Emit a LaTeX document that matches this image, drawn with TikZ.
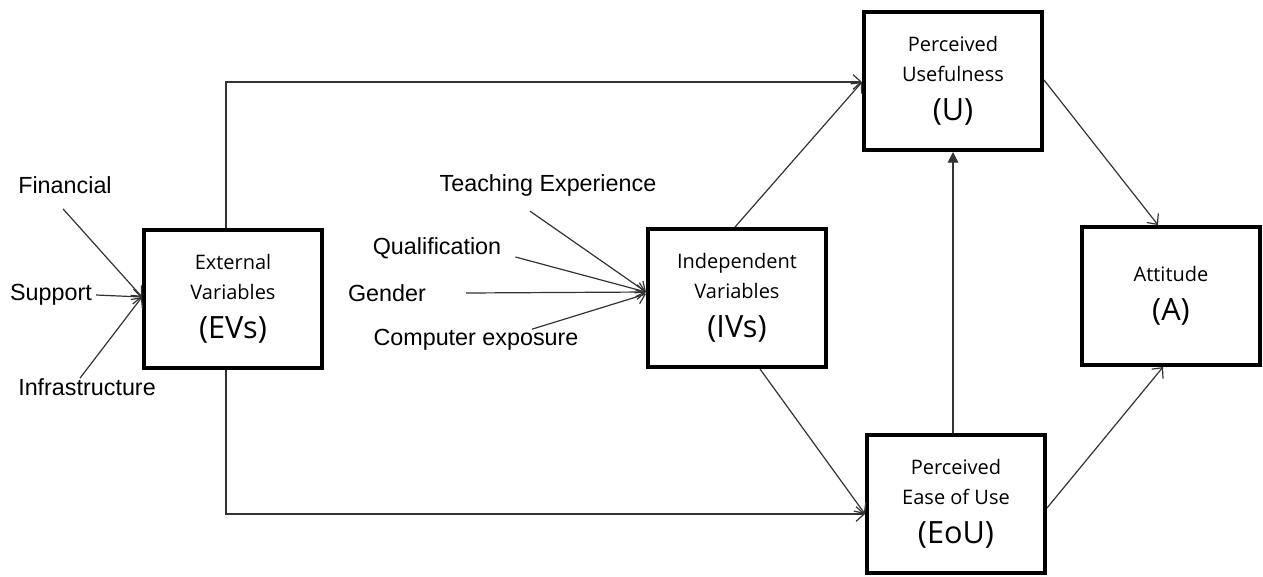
\documentclass[tikz,border=0pt]{standalone}
\usepackage{fontspec}
\setmainfont{Liberation Sans}
\newfontfamily\boxfont{Open Sans}
\usetikzlibrary{arrows.meta,calc}
\newcommand{\boxabbr}[1]{{\fontsize{23}{27}\selectfont #1}}

\begin{document}
\begin{tikzpicture}[x=0.75pt,y=-0.75pt,
    box/.style={draw,line width=3pt,minimum width=133.5pt,minimum height=103.5pt,align=center,inner sep=0pt,font=\boxfont\fontsize{15}{22.5}\selectfont},
    lbl/.style={inner sep=0pt,font=\fontsize{17.5}{21}\selectfont},
    conn/.style={black!80,line width=0.9pt,-{Straight Barb[length=6pt,width=11pt]}}]
  \useasboundingbox (0,0) rectangle (1263,576);
  % boxes
  \node[box] (ev) at (233,299) {External\\Variables\\[7pt]\boxabbr{(EVs)}};
  \node[box] (iv) at (737,298) {Independent\\Variables\\[7pt]\boxabbr{(IVs)}};
  \node[box] (u) at (953,81) {Perceived\\Usefulness\\[7pt]\boxabbr{(U)}};
  \node[box] (a) at (1171,296) {Attitude\\[7pt]\boxabbr{(A)}};
  \node[box] (eou) at (956,504) {Perceived\\Ease of Use\\[7pt]\boxabbr{(EoU)}};
  % outside labels
  \node[lbl] (fin) at (65,185) {Financial};
  \node[lbl] (sup) at (51,295) {Support};
  \node[lbl] (inf) at (87,387) {Infrastructure};
  \node[lbl] (teach) at (548,185) {Teaching Experience};
  \node[lbl] (qual) at (437,248) {Qualification};
  \node[lbl] (gen) at (387,293) {Gender};
  \node[lbl] (comp) at (476,340) {Computer exposure};
  % meeting points
  \coordinate (evin) at ($(ev.west)+(0,-2)$);
  \coordinate (ivin) at ($(iv.west)+(0,-6)$);
  \coordinate (uin) at ($(u.west)+(0,1)$);
  \coordinate (eouin) at ($(eou.west)+(0,10)$);
  % arrows
  \draw[conn] ($(fin.south)+(-2,15)$) -- (evin);
  \draw[conn] ($(sup.east)+(4,0)$) -- (evin);
  \draw[conn] ($(inf.north)+(-7,0)$) -- (evin);
  \draw[conn] ($(teach.south)+(-18,15)$) -- (ivin);
  \draw[conn] ($(qual.east)+(14,9)$) -- (ivin);
  \draw[conn] ($(gen.east)+(40,0)$) -- (ivin);
  \draw[conn] ($(comp.north)+(56,0)$) -- ($(iv.west)+(0,-4)$);
  \draw[conn] ($(ev.north)+(-7,0)$) |- (uin);
  \draw[conn] ($(iv.north)+(-2,0)$) -- (uin);
  \draw[conn] ($(ev.south)+(-7,0)$) |- (eouin);
  \draw[conn] ($(iv.south)+(23,0)$) -- (eouin);
  \draw[black!80,line width=0.9pt,-{Triangle[length=8pt,width=8pt]}] ($(eou.north)+(-3,0)$) -- (u.south);
  \draw[conn] ($(u.east)+(0,-1)$) -- ($(a.north)+(-13,0)$);
  \draw[conn] ($(eou.east)+(0,4)$) -- ($(a.south)+(-8,0)$);
\end{tikzpicture}
\end{document}
